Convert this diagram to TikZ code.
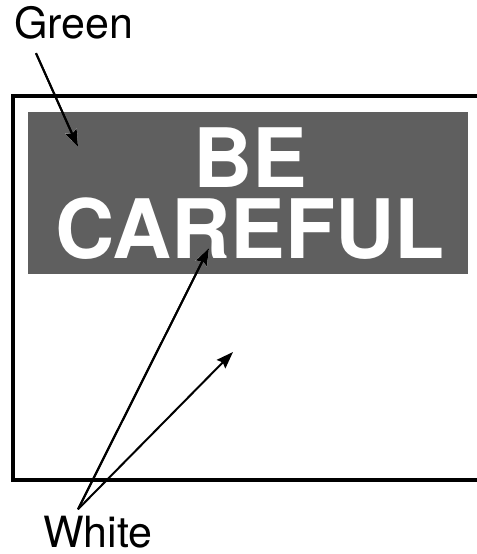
\documentclass[tikz,border=0pt]{standalone}
\usepackage{fontspec}
\setmainfont{TeX Gyre Heros}
\usepackage{xcolor}
\usepackage{tikz}
\usetikzlibrary{positioning,arrows.meta,calc}
\definecolor{signgrey}{RGB}{95,95,95}
\tikzset{
  label/.style={inner sep=0pt, anchor=base west, font=\fontsize{21.5}{24}\selectfont},
  signframe/.style={draw=black, line width=2pt},
  band/.style={fill=signgrey, draw=none},
  signtext/.style={text=white, align=center, inner sep=0pt, anchor=base,
                   font=\fontsize{41}{35.5}\selectfont\bfseries},
  halo/.style={-{Stealth[length=8.5pt, width=6pt, inset=1.2pt, line width=1.6pt, white]},
               line width=1pt, draw=black},
  ptr/.style={-{Stealth[length=8.5pt, width=6pt, inset=1.2pt]},
              line width=1pt, draw=black},
}
\begin{document}
\begin{tikzpicture}[x=0.5pt, y=-0.5pt]
  \clip (0,0) rectangle (477,554);
  \fill[white] (0,0) rectangle (477,554);
  % sign
  \draw[signframe] (13,96) rectangle (500,480);
  \fill[band] (28,112) rectangle (468,274);
  \node[signtext] (sign) at (250,258) {BE\\CAREFUL};
  % labels
  \node[label] (green) at (14,38) {Green};
  \node[label] (white) at (43,547) {White};
  \coordinate (greentip) at (78,147);
  \coordinate (lettertip) at (209,248);
  \coordinate (fieldtip) at (233,352);
  \draw[halo] ([xshift=11pt,yshift=-7pt]green.south west) -- (greentip);
  \draw[halo] ([xshift=17.5pt,yshift=3pt]white.north west) -- (lettertip);
  \draw[ptr] ([xshift=11pt,yshift=-7pt]green.south west) -- (greentip);
  \draw[ptr] ([xshift=17.5pt,yshift=3pt]white.north west) -- (lettertip);
  \draw[ptr] ([xshift=17.5pt,yshift=3pt]white.north west) -- (fieldtip);
\end{tikzpicture}
\end{document}
